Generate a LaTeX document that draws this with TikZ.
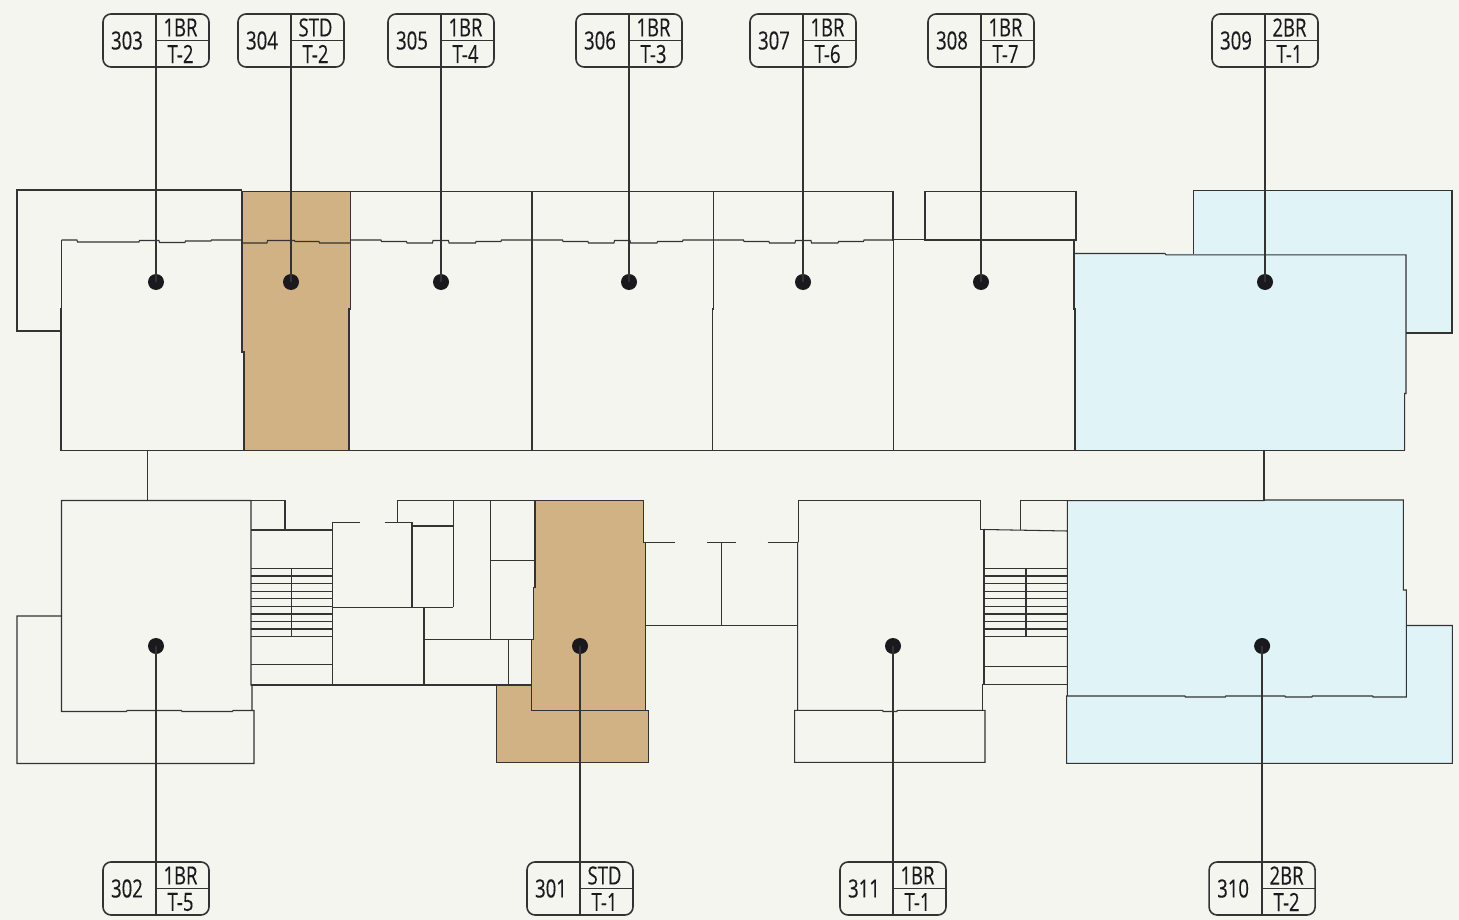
\documentclass[tikz,border=0pt]{standalone}
\usepackage{fontspec}
\newfontfamily\tagfont[FakeStretch=0.74,FakeBold=0.25]{Open Sans}
\definecolor{paper}{HTML}{F4F5EF}
\definecolor{studio}{HTML}{D1B284}
\definecolor{twobed}{HTML}{E0F3F7}
\definecolor{wall}{HTML}{333333}
\definecolor{ink}{HTML}{1A1A1E}
\pgfmathsetmacro{\radius}{8}
\tikzset{
    wallline/.style={draw=wall,line width=1.05pt},
    leader/.style={draw=wall,line width=2pt},
    pin/.style={circle,fill=ink,minimum size=2*\radius pt,inner sep=0pt},
    tagbox/.style={draw=wall,line width=1.6pt,rounded corners=8pt,minimum width=106pt,minimum height=53pt,inner sep=0pt},
    tagline/.style={draw=wall,line width=1.6pt},
    tagtext/.style={inner sep=0pt,text=ink,font=\tagfont\fontsize{25}{25}\selectfont},
}
\begin{document}
\begin{tikzpicture}[x=1pt,y=-1pt]
    \useasboundingbox[fill=paper] (0,0) rectangle (1459,920);
    % coloured flats
    \fill[studio] (242,191.5) -- (350.5,191.5) -- (350.5,309) -- (349,309) -- (349,450.5) -- (244,450.5) -- (244,352) -- (242,352) -- cycle;
    \fill[studio] (535,500.5) -- (643.3,500.5) -- (643.3,542.3) -- (645.3,542.3) -- (645.3,710.7) -- (648.3,710.7) -- (648.3,762.3) -- (496.7,762.3) -- (496.7,685) -- (531.7,685) -- (531.7,639.5) -- (533.3,639.5) -- (533.3,587.7) -- (535,587.7) -- cycle;
    \fill[twobed] (1193.5,190.3) -- (1452,190.3) -- (1452,333) -- (1406,333) -- (1406,393.5) -- (1404.7,393.5) -- (1404.7,451) -- (1075,451) -- (1075,309) -- (1073.7,309) -- (1073.7,253.5) -- (1193.5,253.5) -- cycle;
    \fill[twobed] (1067.3,500.7) -- (1264,500.7) -- (1264,500) -- (1403.3,500) -- (1403.3,590) -- (1406.3,590) -- (1406.3,625.5) -- (1452.3,625.5) -- (1452.3,763.3) -- (1066.7,763.3) -- (1066.7,696) -- (1067.3,696) -- cycle;
    % upper wing
    \draw[wallline] (61.5,331) -- (17,331) -- (17,190) -- (242,190);
    \draw[wallline] (242,191.5) -- (893,191.5);
    \draw[wallline] (61.5,240) -- (77,240) -- (77.5,242) -- (139,242) -- (139.5,240.5) -- (159,240.5) -- (159.5,242.5) -- (185,242.5) -- (185.5,241) -- (211,241) -- (211.5,240) -- (242,240);
    \draw[wallline] (242,243) -- (267,243) -- (267.5,240.5) -- (294.5,240.5) -- (295,241.5) -- (319,241.5) -- (319.5,243) -- (350.5,243);
    \foreach \x in {350.5,532,713}{
        \draw[wallline] (\x,240) -- ++(30.5,0) -- ++(0.5,1.5) -- ++(25,0) -- ++(0.5,1.5) -- ++(25.5,0) -- ++(0.5,-2.5) -- ++(15.5,0) -- ++(0.5,2.5) -- ++(26.5,0) -- ++(0.5,-1.5) -- ++(25,0) -- ++(0.5,-1.5) -- ++(30,0);
    }
    \draw[wallline] (61.5,240) -- (61.5,309) -- (61,309) -- (61,450.5) -- (1404.7,450.5);
    \draw[wallline] (242,191.5) -- (242,352) -- (244,352) -- (244,450.5);
    \draw[wallline] (350.5,191.5) -- (350.5,309) -- (349,309) -- (349,450.5);
    \draw[wallline] (532,191.5) -- (532,450.5);
    \draw[wallline] (713.5,191.5) -- (713.5,309) -- (712.5,309) -- (712.5,450.5);
    \draw[wallline] (893,191.5) -- (893,240) -- (893.5,240) -- (893.5,450.5);
    \draw[wallline] (893,239.5) -- (925,239.5);
    \draw[wallline] (925,191.5) rectangle (1076,240);
    \draw[wallline] (1074,240) -- (1074,309) -- (1075,309) -- (1075,450.5);
    \draw[wallline] (1074,253.5) -- (1165,253.5) -- (1166,254.8) -- (1406,254.8) -- (1406,393.5) -- (1404.7,393.5) -- (1404.7,450.5);
    \draw[wallline] (1193.5,254) -- (1193.5,190.3) -- (1452,190.3) -- (1452,333) -- (1406,333);
    % corridor ends
    \draw[wallline] (147.5,450.5) -- (147.5,500.5);
    \draw[wallline] (1264,450.5) -- (1264,500.5);
    % lower left flat
    \draw[wallline] (61.5,616) -- (17,616) -- (17,763.5) -- (254,763.5) -- (254,710.5) -- (233,710.5) -- (232.5,711.5) -- (182,711.5) -- (181.5,710.5) -- (127,710.5) -- (126.5,711.5) -- (61.5,711.5) -- (61.5,500.5) -- (251,500.5) -- (251,685) -- (252,685) -- (252,710.5);
    % core, left of the studio
    \draw[wallline] (251,500.5) -- (285,500.5) -- (285,530);
    \draw[wallline] (251,530) -- (332.5,530);
    \foreach \y in {568.3,576,583.7,591.3,598.7,606.3,614,621.3,629,636.3}{
        \draw[wallline] (251,\y) -- (332.5,\y);
        \draw[wallline] (984,\y) -- (1067.3,\y);
    }
    \draw[wallline] (291.7,568.3) -- (291.7,636.3);
    \draw[wallline] (251,664.3) -- (332.5,664.3);
    \draw[wallline] (251,685) -- (531.7,685);
    \draw[wallline] (332.5,685) -- (332.5,522.7) -- (360,522.7);
    \draw[wallline] (384.5,522.7) -- (412,522.7) -- (412,607.3);
    \draw[wallline] (332.5,607.3) -- (453.3,607.3);
    \draw[wallline] (397.5,522.7) -- (397.5,500.5) -- (535,500.5);
    \draw[wallline] (412,526) -- (453.3,526);
    \draw[wallline] (453.3,500.5) -- (453.3,607.3);
    \draw[wallline] (424,607.3) -- (424,685);
    \draw[wallline] (424,639.7) -- (533.3,639.7);
    \draw[wallline] (490.7,500.5) -- (490.7,639.7);
    \draw[wallline] (490.7,560.3) -- (535,560.3);
    \draw[wallline] (508.3,639.7) -- (508.3,685);
    % studio 301
    \draw[wallline] (535,500.5) -- (643.3,500.5) -- (643.3,542.3) -- (645.3,542.3) -- (645.3,710.7);
    \draw[wallline] (535,500.5) -- (535,587.7) -- (533.3,587.7) -- (533.3,639.5) -- (531.7,639.5) -- (531.7,710.7) -- (648.3,710.7) -- (648.3,762.3) -- (496.7,762.3) -- (496.7,685);
    % corridor stub
    \draw[wallline] (645.3,542.3) -- (675.3,542.3);
    \draw[wallline] (707.3,542.3) -- (736,542.3);
    \draw[wallline] (767.7,542.3) -- (798.3,542.3);
    \draw[wallline] (721.7,542.3) -- (721.7,625.3);
    \draw[wallline] (645.3,625.3) -- (797.7,625.3);
    % flat 311
    \draw[wallline] (798.3,542.3) -- (798.3,500.7) -- (980.7,500.7) -- (980.7,529.5) -- (984,529.5) -- (984,684.5) -- (982.7,684.5) -- (982.7,710.3);
    \draw[wallline] (798.3,542.3) -- (797.7,542.3) -- (797.7,710.3) -- (882.7,710.3) -- (883,711.5) -- (897,711.5) -- (897.3,710.3) -- (985,710.3) -- (985,762.3) -- (794.7,762.3) -- (794.7,710.3) -- (797.7,710.3);
    % core, right
    \draw[wallline] (984,529.5) -- (1067.3,531);
    \draw[wallline] (1020.7,530) -- (1020.7,500.5) -- (1067.3,500.5);
    \draw[wallline] (1026,568.3) -- (1026,636.3);
    \draw[wallline] (984,666.3) -- (1067.3,666.3);
    \draw[wallline] (984,684.5) -- (1067.3,684.5);
    % flat 310
    \draw[wallline] (1067.3,696) -- (1067.3,500.7) -- (1264,500.7) -- (1264,500) -- (1403.3,500) -- (1403.3,590) -- (1406.3,590) -- (1406.3,697) -- (1373,697) -- (1372.7,696) -- (1312.3,696) -- (1312,697) -- (1285.3,697) -- (1285,696) -- (1225.7,696) -- (1225.3,697) -- (1185.3,697) -- (1185,696) -- (1066.7,696) -- (1066.7,763.3) -- (1452.3,763.3) -- (1452.3,625.5) -- (1406.3,625.5);
    % pins and tags above
    \foreach \x/\num/\kind/\plan in {156/303/1BR/T-2,291/304/STD/T-2,441/305/1BR/T-4,629/306/1BR/T-3,803/307/1BR/T-6,981/308/1BR/T-7,1265/309/2BR/T-1}{
        \node[pin] (pin\num) at (\x,282) {};
        \node[tagbox] (tag\num) at (\x,40.5) {};
        \draw[leader] (tag\num.north) -- (pin\num.center);
        \draw[tagline] (tag\num.center) -- (tag\num.east);
        \node[tagtext] (num\num) at (\x-29,40.5) {\num};
        \node[tagtext] (kind\num) at (\x+24.5,27.5) {\kind};
        \node[tagtext] (plan\num) at (\x+24.5,54) {\plan};
    }
    % pins and tags below
    \foreach \x/\num/\kind/\plan in {156/302/1BR/T-5,580/301/STD/T-1,893/311/1BR/T-1,1262.1/310/2BR/T-2}{
        \node[pin] (pin\num) at (\x,646) {};
        \node[tagbox] (tag\num) at (\x,888.5) {};
        \draw[leader] (pin\num.center) -- (tag\num.south);
        \draw[tagline] (tag\num.center) -- (tag\num.east);
        \node[tagtext] (num\num) at (\x-29,888.5) {\num};
        \node[tagtext] (kind\num) at (\x+24.5,875.5) {\kind};
        \node[tagtext] (plan\num) at (\x+24.5,902) {\plan};
    }
\end{tikzpicture}
\end{document}
